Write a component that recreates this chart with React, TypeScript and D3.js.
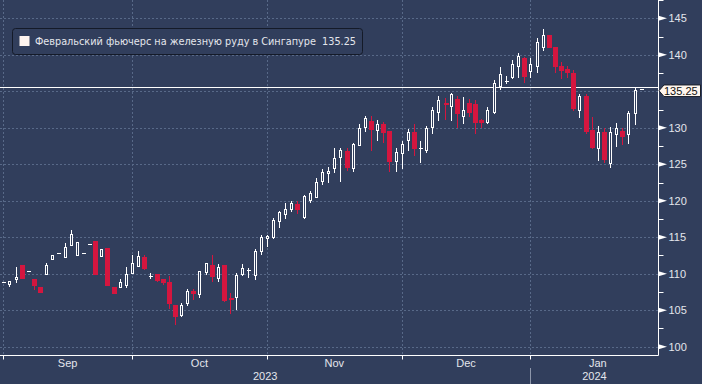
import React from 'react';
import * as d3 from 'd3';

// ---- Data ----
const openP = [
  108.8, 108.55, 109.3, 111.2, 110.33, 109.24, 108.18, 109.92, 111.97, 112.8,
  112.29, 113.89, 112.52, 112.84, 114.03, 114.48, 112.47, 113.48, 108.18, 108.22,
  108.45, 110.06, 111.1, 112.25, 109.69, 109.92, 109.28, 108.86, 105.67, 104.34,
  105.95, 107.67, 107.26, 110.19, 111.2, 109.37, 111.2, 106.71, 106.85, 109.96,
  110.51, 109.78, 113.15, 114.85, 115.0, 117.27, 118.14, 118.83, 119.55, 117.81,
  120.1, 120.55, 122.71, 123.84, 124.44, 125.95, 126.81, 124.44, 127.64, 130.15,
  130.97, 129.7, 130.52, 129.56, 125.49, 126.5, 128.32, 129.46, 127.27, 126.95,
  130.16, 132.12, 133.45, 133.02, 133.94, 131.65, 133.35, 133.26, 131.06, 130.75,
  132.21, 135.74, 136.45, 137.0, 138.5, 139.6, 137.78, 138.5, 141.11, 142.71,
  141.06, 138.46, 138.1, 137.55, 132.43, 134.35, 129.7, 127.27, 129.47, 125.23,
  129.1, 129.6, 129.1, 131.98, 135.25,
];
const highP = [
  108.8, 109.0, 110.92, 111.2, 110.33, 109.24, 108.18, 111.5, 112.52, 112.8,
  114.17, 115.99, 114.3, 112.84, 114.03, 114.48, 113.35, 113.48, 108.18, 109.24,
  110.88, 112.56, 113.11, 112.56, 110.1, 109.92, 109.28, 109.69, 105.67, 105.95,
  107.87, 107.9, 110.37, 111.5, 112.56, 111.33, 111.2, 107.4, 110.06, 111.29,
  110.74, 113.35, 115.3, 115.3, 117.68, 118.64, 119.65, 120.0, 120.0, 120.79,
  121.33, 123.07, 124.35, 124.66, 127.27, 127.27, 127.27, 127.95, 130.52, 131.65,
  131.65, 131.06, 130.75, 129.56, 127.27, 128.19, 129.79, 130.52, 128.19, 130.24,
  132.9, 134.35, 134.04, 134.72, 134.35, 134.17, 133.94, 133.81, 131.24, 132.9,
  136.5, 138.37, 137.1, 139.28, 140.2, 139.65, 139.52, 142.25, 143.5, 142.71,
  141.06, 138.97, 138.46, 137.91, 134.63, 134.63, 131.52, 130.24, 129.93, 130.06,
  130.61, 129.93, 132.34, 135.49, 135.25,
];
const lowP = [
  108.8, 108.36, 108.82, 109.45, 110.33, 107.95, 107.54, 109.92, 111.97, 112.8,
  112.29, 113.89, 112.52, 112.84, 114.03, 110.0, 112.47, 108.41, 107.4, 108.22,
  108.22, 110.06, 111.1, 110.6, 109.37, 109.0, 108.55, 105.35, 103.1, 104.2,
  105.67, 106.5, 106.85, 109.96, 109.04, 109.04, 106.26, 104.66, 105.17, 109.82,
  109.59, 109.32, 112.66, 113.8, 114.94, 116.44, 117.59, 118.64, 118.28, 117.59,
  119.79, 120.55, 122.25, 122.6, 123.9, 122.75, 124.21, 124.08, 127.64, 129.6,
  126.95, 128.32, 128.09, 124.12, 124.12, 124.44, 126.95, 126.27, 125.35, 126.64,
  129.33, 131.06, 131.15, 131.06, 130.15, 130.61, 131.65, 129.33, 130.15, 130.61,
  132.0, 135.3, 136.1, 136.88, 136.91, 136.31, 137.0, 137.68, 140.65, 141.0,
  137.68, 136.86, 137.0, 132.43, 131.52, 129.24, 127.27, 125.6, 125.37, 124.66,
  127.54, 127.77, 127.86, 130.47, 135.25,
];
const closeP = [
  108.8, 109.0, 109.5, 109.45, 110.33, 108.5, 107.54, 111.2, 112.52, 112.8,
  113.62, 115.44, 114.3, 112.84, 114.03, 110.0, 113.35, 108.41, 107.4, 108.82,
  109.92, 111.5, 112.43, 110.78, 109.69, 109.14, 108.86, 106.03, 104.2, 105.67,
  107.63, 107.4, 110.37, 111.43, 109.73, 110.96, 106.4, 106.5, 109.82, 110.82,
  110.51, 113.15, 115.07, 115.13, 117.36, 118.5, 118.83, 119.73, 118.87, 120.69,
  121.02, 122.6, 123.98, 124.07, 125.81, 126.95, 124.66, 127.73, 129.93, 131.3,
  129.79, 130.52, 129.38, 125.49, 126.72, 127.77, 129.46, 127.18, 127.27, 129.93,
  132.44, 133.81, 133.3, 134.58, 131.98, 132.44, 132.21, 130.83, 130.79, 132.44,
  136.18, 137.35, 136.45, 138.7, 139.83, 137.13, 138.74, 141.75, 142.71, 141.11,
  138.5, 137.91, 137.64, 132.75, 134.35, 129.6, 127.4, 129.38, 125.69, 129.38,
  130.01, 128.91, 131.98, 135.17, 135.25,
];

const yTicks = [100, 105, 110, 115, 120, 125, 130, 135, 140, 145];
const yMinorTicks = [102.5, 107.5, 112.5, 117.5, 122.5, 127.5, 132.5, 137.5, 142.5, 147.5];
const monthLabels = ['Sep', 'Oct', 'Nov', 'Dec', 'Jan'];
const yearLabels = ['2023', '2024'];
const lastValue = 135.25;
const legendLabel = 'Февральский фьючерс на железную руду в Сингапуре';

// trading days (weekdays, New Year holiday excluded)
const tradingDays = d3
  .timeDay.range(new Date(2023, 8, 1), new Date(2024, 0, 27))
  .filter((d) => d.getDay() % 6 !== 0 && !(d.getMonth() === 0 && d.getDate() === 1));

const W = 702;
const H = 384;
const BG = '#313e5c';
const GRID = '#586988';
const RED = '#d4163f';
const TXT = '#e4e6ec';
const FONT = '"Liberation Sans", Arial, sans-serif';
const LEGEND_FONT = '"DejaVu Sans", Verdana, sans-serif';

export default function App() {
  const plotRight = 658.5;
  const plotBottom = 355.5;
  const n = closeP.length;
  const x = d3.scaleLinear().domain([0, n - 1]).range([3.3, 640.7]);
  const y = d3.scaleLinear().domain([100, 145]).range([346.7, 18.3]);

  const monthStarts: number[] = [];
  tradingDays.slice(0, n).forEach((d, i) => {
    if (i === 0 || d.getMonth() !== tradingDays[i - 1].getMonth()) monthStarts.push(i);
  });
  const yearStart = monthStarts[monthStarts.length - 1];

  const px = (i: number) => Math.round(x(i));
  const py = (v: number) => Math.round(y(v));

  const candles = closeP.map((c, i) => {
    const o = openP[i];
    const hi = highP[i];
    const lo = lowP[i];
    const cx = px(i);
    const up = c >= o;
    const col = up ? '#ffffff' : RED;
    const top = py(Math.max(o, c));
    const bot = py(Math.min(o, c));
    const els: React.ReactNode[] = [];
    if (py(hi) < py(lo)) {
      els.push(
        <line key="w" x1={cx + 0.5} x2={cx + 0.5} y1={py(hi)} y2={py(lo) + 1} stroke={col} strokeWidth={1} />
      );
    }
    if (bot - top <= 1) {
      els.push(<rect key="b" x={cx - 1} y={top} width={up ? 4 : 5} height={up ? 1 : 2} fill={col} />);
    } else if (up) {
      els.push(
        <rect key="b" x={cx - 0.5} y={top + 0.5} width={2} height={bot - top} fill={BG} stroke="#ffffff" strokeWidth={1} />
      );
    } else {
      els.push(<rect key="b" x={cx - 2} y={top} width={5} height={bot - top + 1} fill={RED} />);
    }
    return <g key={i}>{els}</g>;
  });

  const lineY = Math.round(y(lastValue) - 2.5) + 0.5;
  const tagY = y(lastValue) + 1.3;

  const monthCenters = monthStarts.map((s, k) => {
    const a = x(s);
    const b = k + 1 < monthStarts.length ? x(monthStarts[k + 1]) : x(n - 1 + 4);
    return (a + b) / 2;
  });
  const yearCenters = [(0 + x(yearStart)) / 2, (x(yearStart) + plotRight) / 2];
  const labelTicks = yTicks.filter((t) => Math.abs(y(t) - tagY) > 8);

  return (
    <svg width={W} height={H} style={{ position: 'fixed', left: 0, top: 0 }} fontFamily={FONT}>
      <rect x={0} y={0} width={W} height={H} fill={BG} />
      {/* grid */}
      {yTicks.map((t) => (
        <line key={'hg' + t} x1={0} x2={plotRight} y1={py(t) + 0.5} y2={py(t) + 0.5} stroke={GRID} strokeDasharray="2,2" />
      ))}
      {monthStarts.map((s) => (
        <line key={'vg' + s} x1={px(s) + 0.5} x2={px(s) + 0.5} y1={0} y2={plotBottom} stroke={GRID} strokeDasharray="2,2" />
      ))}
      {/* last value line */}
      <line x1={0} x2={plotRight} y1={lineY} y2={lineY} stroke="#ffffff" strokeWidth={1} />
      {/* candles */}
      <g shapeRendering="crispEdges">{candles}</g>
      {/* frame */}
      <line x1={plotRight} x2={plotRight} y1={0} y2={plotBottom} stroke="#ffffff" />
      <line x1={0} x2={plotRight} y1={plotBottom} y2={plotBottom} stroke="#ffffff" />
      {/* right axis */}
      {yMinorTicks.map((t) => (
        <line key={'mt' + t} x1={plotRight} x2={plotRight + 5} y1={py(t) + 0.5} y2={py(t) + 0.5} stroke="#ffffff" />
      ))}
      {labelTicks.map((t) => (
        <g key={'yt' + t}>
          <path d={`M${plotRight},${y(t) - 2.5} L${plotRight + 8.5},${y(t)} L${plotRight},${y(t) + 2.5} Z`} fill="#ffffff" />
          <text x={668.5} y={y(t)} dy="0.36em" fontSize={11} fill={TXT}>
            {t}
          </text>
        </g>
      ))}
      {/* last value tag */}
      <path
        d={`M${plotRight + 0.5},${tagY} L${plotRight + 5.5},${tagY - 5.8} L700.5,${tagY - 5.8} L700.5,${tagY + 5.8} L${plotRight + 5.5},${tagY + 5.8} Z`}
        fill="#fff6ee"
        stroke="#1b1f2a"
        strokeWidth={1}
      />
      <text x={664} y={tagY} dy="0.36em" fontSize={11} fill="#111111">
        {lastValue.toFixed(2)}
      </text>
      {/* bottom axis */}
      {monthStarts.map((s) => (
        <line key={'xt' + s} x1={px(s) + 0.5} x2={px(s) + 0.5} y1={plotBottom} y2={plotBottom + 4} stroke="#ffffff" />
      ))}
      {monthLabels.map((m, k) => (
        <text key={'ml' + m} x={monthCenters[k]} y={363.5} dy="0.36em" fontSize={11} fill={TXT} textAnchor="middle">
          {m}
        </text>
      ))}
      <line x1={px(yearStart) + 0.5} x2={px(yearStart) + 0.5} y1={368} y2={H} stroke="#8d96aa" />
      {yearLabels.map((yl, k) => (
        <text key={'yl' + yl} x={yearCenters[k]} y={376.5} dy="0.36em" fontSize={11} fill={TXT} textAnchor="middle">
          {yl}
        </text>
      ))}
      {/* legend */}
      <rect x={12.5} y={28.5} width={350} height={26} rx={3} fill={BG} stroke="#141a28" />
      <rect x={19.5} y={36} width={10} height={10} fill="#fdf3ee" />
      <text
        x={35}
        y={41.5}
        dy="0.36em"
        fontSize={10.5}
        fontFamily={LEGEND_FONT}
        fill={TXT}
        textLength={321}
        lengthAdjust="spacingAndGlyphs"
      >
        {legendLabel + '\u00a0\u00a0' + lastValue.toFixed(2)}
      </text>
    </svg>
  );
}
